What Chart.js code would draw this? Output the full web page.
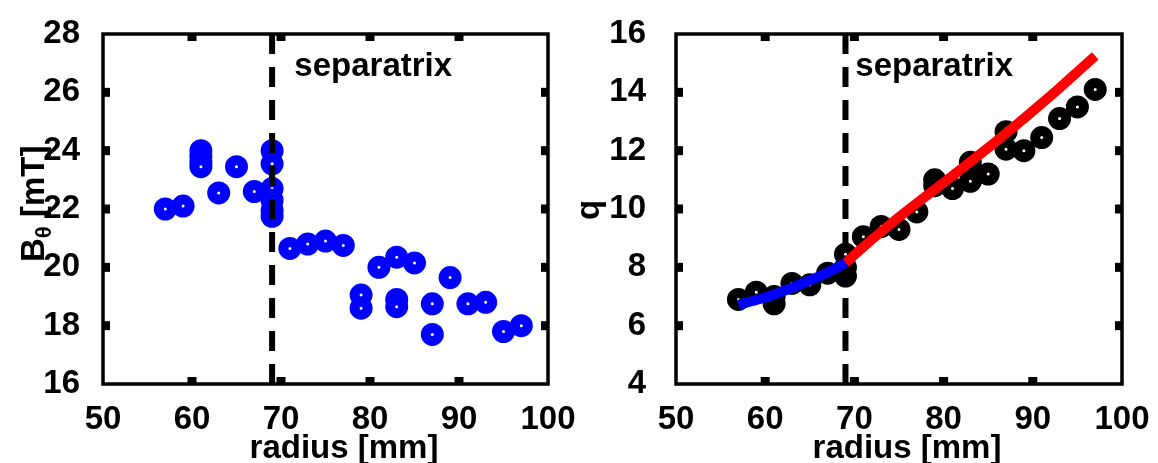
<!DOCTYPE html>
<html>
<head>
<meta charset="utf-8">
<script src="https://cdn.jsdelivr.net/npm/chart.js@4.4.0/dist/chart.umd.min.js"></script>
<style>
  html, body { margin: 0; padding: 0; background: #fff; }
  #wrap { position: relative; width: 1158px; height: 463px; }
  .panel { position: absolute; top: 0; width: 579px; height: 463px; }
  #left { left: 0; }
  #right { left: 579px; }
</style>
</head>
<body>
<div id="wrap">
  <div class="panel" id="left"><canvas id="bChart" width="579" height="463"></canvas></div>
  <div class="panel" id="right"><canvas id="qChart" width="579" height="463"></canvas></div>
</div>
<script>
// poloidal field (radius in mm, B_theta in mT)
const bRadius = [57, 59, 61, 61, 61, 61, 63, 65, 67, 69, 69, 69, 69, 69, 69, 71, 73, 75, 77, 79, 79, 81, 83, 83, 83, 85, 87, 87, 89, 91, 93, 95, 97];
const bField  = [22.0, 22.1, 24.0, 23.8, 23.6, 23.45, 22.55, 23.45, 22.6, 24.0, 23.55, 22.7, 22.3, 21.95, 21.75, 20.65, 20.8, 20.9, 20.75, 19.05, 18.6, 20.0, 20.35, 18.9, 18.65, 20.15, 18.75, 17.7, 19.65, 18.75, 18.8, 17.8, 18.0];

// safety factor
const qRadius = [57, 59, 61, 61, 63, 65, 67, 69, 69, 69, 71, 73, 75, 77, 79, 79, 81, 83, 83, 85, 87, 87, 89, 91, 93, 95, 97];
const qValue  = [6.9, 7.15, 6.75, 7.0, 7.45, 7.4, 7.8, 8.45, 8.0, 7.7, 9.05, 9.4, 9.3, 9.9, 11.0, 10.8, 10.7, 11.6, 10.95, 11.2, 12.65, 12.05, 12.0, 12.45, 13.1, 13.5, 14.1];

// fitted q profile, inside and outside the separatrix
const fitInR  = [57, 59, 61, 63, 65, 67, 69];
const fitInQ  = [6.72, 6.88, 7.07, 7.3, 7.55, 7.82, 8.15];
const fitOutR = [69, 71, 73, 75, 77, 79, 81, 83, 85, 87, 89, 91, 93, 95, 97];
const fitOutQ = [8.15, 8.7, 9.22, 9.72, 10.2, 10.67, 11.14, 11.62, 12.1, 12.6, 13.1, 13.62, 14.15, 14.7, 15.25];

const separatrix = 69;
const radiusTicks = [50, 60, 70, 80, 90, 100];
const bTicks = [16, 18, 20, 22, 24, 26, 28];
const qTicks = [4, 6, 8, 10, 12, 14, 16];

const FAMILY = '"Liberation Sans", Arial, sans-serif';
const SIZE = 33;
const tickFont = { family: FAMILY, size: SIZE, weight: 'bold' };

const pts = (xs, ys) => xs.map((x, i) => ({ x, y: ys[i] }));
const fixTicks = list => axis => { axis.ticks = list.map(v => ({ value: v })); };

// box frame, inward ticks, "separatrix" note and axis titles
function framePlugin(cfg) {
  return {
    id: 'frame',
    afterDraw(chart) {
      const { ctx, chartArea: a, scales: { x, y } } = chart;
      ctx.save();
      ctx.fillStyle = '#000';
      x.ticks.forEach(t => {
        if (t.value === x.min || t.value === x.max) return;
        const px = x.getPixelForValue(t.value);
        ctx.fillRect(px - 4.5, a.top, 9, 7);
        ctx.fillRect(px - 4.5, a.bottom - 7, 9, 7);
      });
      y.ticks.forEach(t => {
        if (t.value === y.min || t.value === y.max) return;
        const py = y.getPixelForValue(t.value);
        ctx.fillRect(a.left, py - 4.5, 7, 9);
        ctx.fillRect(a.right - 7, py - 4.5, 7, 9);
      });
      ctx.strokeStyle = '#000';
      ctx.lineWidth = 3.5;
      ctx.strokeRect(a.left, a.top, a.right - a.left, a.bottom - a.top);

      ctx.font = 'bold ' + SIZE + 'px ' + FAMILY;
      ctx.textBaseline = 'alphabetic';
      ctx.textAlign = 'left';
      ctx.fillText('separatrix', x.getPixelForValue(cfg.noteX), y.getPixelForValue(cfg.noteY));

      ctx.textAlign = 'center';
      ctx.fillText('radius [mm]', cfg.xTitleX, 458);

      // rotated y title, parts may be shifted as subscripts
      ctx.translate(cfg.yTitleX, cfg.yTitleY);
      ctx.rotate(-Math.PI / 2);
      ctx.textAlign = 'left';
      let off = 0;
      cfg.yTitle.forEach(([text, size, shift]) => {
        ctx.font = 'bold ' + size + 'px ' + FAMILY;
        ctx.fillText(text, off, shift);
        off += ctx.measureText(text).width;
      });
      ctx.restore();
    }
  };
}

// fixed axis boxes so both panels get the same plot frame
function fitBox(prop, size) {
  return s => {
    s[prop] = size;
    s.paddingTop = s.paddingBottom = s.paddingLeft = s.paddingRight = 0;
  };
}

function axes(yMin, yMax, yTickList, yWidth, yPad) {
  return {
    x: {
      type: 'linear', min: 50, max: 100,
      afterBuildTicks: fixTicks(radiusTicks),
      afterFit: fitBox('height', 79),
      grid: { display: false }, border: { display: false },
      ticks: { color: '#000', font: tickFont, padding: 8, maxRotation: 0 }
    },
    y: {
      type: 'linear', min: yMin, max: yMax,
      afterBuildTicks: fixTicks(yTickList),
      afterFit: fitBox('width', yWidth),
      grid: { display: false }, border: { display: false },
      ticks: { color: '#000', font: tickFont, padding: yPad }
    }
  };
}

const common = {
  responsive: false,
  animation: false,
  devicePixelRatio: 1,
  events: [],
  plugins: { legend: { display: false }, tooltip: { enabled: false } }
};

const marker = { pointRadius: 6.5, borderWidth: 10, backgroundColor: '#fff' };
const dashed = { borderColor: '#000', borderWidth: 6, borderDash: [20, 13], pointRadius: 0 };

new Chart(document.getElementById('bChart'), {
  type: 'scatter',
  data: {
    datasets: [
      {
        type: 'line', ...dashed, order: 0,
        data: pts([separatrix, separatrix], [bTicks[bTicks.length - 1], bTicks[0]])
      },
      { ...marker, borderColor: '#0000ff', order: 1, data: pts(bRadius, bField) }
    ]
  },
  options: {
    ...common,
    layout: { padding: { top: 34, right: 31, left: 0, bottom: 0 } },
    scales: axes(16, 28, bTicks, 103, 15)
  },
  plugins: [framePlugin({
    noteX: 71.5, noteY: 26.55, xTitleX: 344,
    yTitleX: 44, yTitleY: 262,
    yTitle: [['B', SIZE, 0], ['\u03b8', 22, 7], [' [mT]', SIZE, 0]]
  })]
});

new Chart(document.getElementById('qChart'), {
  type: 'scatter',
  data: {
    datasets: [
      {
        type: 'line', borderColor: '#0000ff', borderWidth: 10, pointRadius: 0,
        cubicInterpolationMode: 'monotone', order: 0,
        data: pts(fitInR, fitInQ)
      },
      {
        type: 'line', borderColor: '#ff0000', borderWidth: 10, pointRadius: 0,
        cubicInterpolationMode: 'monotone', order: 0,
        data: pts(fitOutR, fitOutQ)
      },
      {
        type: 'line', ...dashed, order: 1,
        data: pts([separatrix, separatrix], [qTicks[qTicks.length - 1], qTicks[0]])
      },
      { ...marker, borderColor: '#000', order: 2, data: pts(qRadius, qValue) }
    ]
  },
  options: {
    ...common,
    layout: { padding: { top: 34, right: 36, left: 0, bottom: 0 } },
    scales: axes(4, 16, qTicks, 97, 22)
  },
  plugins: [framePlugin({
    noteX: 70.1, noteY: 14.55, xTitleX: 328,
    yTitleX: 20, yTitleY: 220,
    yTitle: [['q', SIZE, 0]]
  })]
});
</script>
</body>
</html>
